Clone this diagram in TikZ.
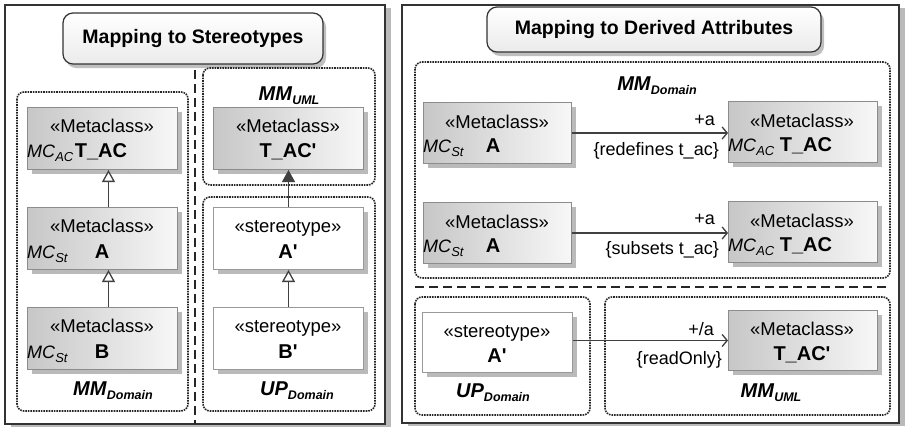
\documentclass[tikz,border=0pt]{standalone}
\usepackage{fontspec}
\setmainfont{Liberation Sans}
\usetikzlibrary{shadows,arrows.meta,calc}
\newcommand{\mygl}[2]{\textbf{\textit{#1}}{\fontsize{12.5}{12}\selectfont\raisebox{-4.5pt}{\textbf{\textit{#2}}}}}
\newcommand{\mymc}[1]{\textit{MC}{\fontsize{13}{12}\selectfont\raisebox{-4.5pt}{\textit{#1}}}}
\newcommand{\apo}{\textquotesingle}
\begin{document}
\begin{tikzpicture}[x=1pt,y=-1pt,
  panel/.style={draw=black!80, line width=1.6pt, fill=white,
    drop shadow={shadow xshift=6pt, shadow yshift=-3pt, fill=black!45, opacity=0.6}},
  grp/.style={draw=black!85, densely dotted, line width=1.6pt, rounded corners=7pt},
  sep/.style={draw=black!85, line width=1.8pt, dash pattern=on 9pt off 5pt},
  titlebox/.style={draw=black!80, line width=1.2pt, rounded corners=10pt,
    top color=white, bottom color=black!8,
    drop shadow={shadow xshift=3pt, shadow yshift=-4pt, fill=black!50, opacity=0.5},
    font=\bfseries\fontsize{19.5}{22}\selectfont},
  meta/.style={draw=black!45, line width=1pt, left color=black!22, right color=black!3,
    minimum width=150pt, minimum height=62pt, anchor=north west, inner sep=0pt,
    drop shadow={shadow xshift=4pt, shadow yshift=-4pt, fill=black!45, opacity=0.6}},
  stereo/.style={meta, left color=white, right color=white, draw=black!40},
  btxt/.style={font=\fontsize{18.5}{22}\selectfont, anchor=base, inner sep=0pt},
  bname/.style={btxt, font=\bfseries\fontsize{20}{22}\selectfont},
  mclab/.style={font=\fontsize{18}{20}\selectfont, anchor=base west, inner sep=0pt},
  glab/.style={font=\fontsize{20}{22}\selectfont, anchor=base, inner sep=0pt},
  alab/.style={font=\fontsize{18}{22}\selectfont, anchor=base east, inner sep=0pt},
  conn/.style={draw=black!75, line width=1.3pt},
  gen/.style={conn, -{Triangle[open, length=12pt, width=13pt, fill=white]}},
  ext/.style={conn, -{Triangle[length=12pt, width=13pt, fill=black!75]}},
  nav/.style={conn, -{Straight Barb[length=5pt, width=12pt, line width=1.3pt]}}
]
\useasboundingbox (0,0) rectangle (905,426);
\fill[white] (0,0) rectangle (905,426);

% panels
\path[panel] (5,5) rectangle (385,424);
\path[panel] (402,5) rectangle (899,423);

% titles
\node[titlebox, minimum width=260pt, minimum height=51pt] (t1) at (193,38.5) {Mapping to Stereotypes};
\node[titlebox, minimum width=334pt, minimum height=45pt] (t2) at (654,29.5) {Mapping to Derived Attributes};

% ===== left panel =====
\draw[sep] (195,70) -- (195,424);
\draw[grp] (17,92) rectangle (188,411);
\draw[grp] (203,68) rectangle (375,185);
\draw[grp] (203,197) rectangle (375,411);

\node[meta] (tac) at (27,107) {};
\node[btxt] (tac1) at (102,132) {«Metaclass»};
\node[bname] (tac2) at (101,157) {T\_AC};
\node[mclab] (tac3) at (27,157) {\mymc{AC}};

\node[meta] (a) at (27,207) {};
\node[btxt] (a1) at (102,232) {«Metaclass»};
\node[bname] (a2) at (102,258) {A};
\node[mclab] (a3) at (27,258) {\mymc{St}};

\node[meta] (b) at (27,307) {};
\node[btxt] (b1) at (102,332) {«Metaclass»};
\node[bname] (b2) at (102,358) {B};
\node[mclab] (b3) at (27,358) {\mymc{St}};

\node[glab] (lmmd) at (113,395) {\mygl{MM}{Domain}};

\node[glab] (lmmu) at (289,100) {\mygl{MM}{UML}};
\node[meta] (tacp) at (213,107) {};
\node[btxt] (tacp1) at (288,132) {«Metaclass»};
\node[bname] (tacp2) at (288,157) {T\_AC\apo};

\node[stereo] (ap) at (213,207) {};
\node[btxt] (ap1) at (288,232) {«stereotype»};
\node[bname] (ap2) at (288,258) {A\apo};

\node[stereo] (bp) at (213,307) {};
\node[btxt] (bp1) at (288,332) {«stereotype»};
\node[bname] (bp2) at (288,358) {B\apo};

\node[glab] (lupd) at (297,395) {\mygl{UP}{Domain}};

\draw[gen] ([xshift=6pt]a.north) -- ([xshift=6pt]tac.south);
\draw[gen] ([xshift=6pt]b.north) -- ([xshift=6pt]a.south);
\draw[ext] (ap.north) -- (tacp.south);
\draw[gen] (bp.north) -- (ap.south);

% ===== right panel =====
\draw[grp] (415,62) rectangle (890,278);
\draw[sep] (415,287) -- (890,287);
\draw[grp] (415,297) rectangle (590,415);
\draw[grp] (605,297) rectangle (890,415);

\node[glab] (rmmd) at (657,90) {\mygl{MM}{Domain}};

\node[meta, minimum width=148pt, minimum height=61pt] (ra1) at (423,102) {};
\node[btxt] (ra11) at (497,128) {«Metaclass»};
\node[bname] (ra12) at (493,152) {A};
\node[mclab] (ra13) at (423,152) {\mymc{St}};

\node[meta, minimum width=149pt, minimum height=61pt] (rt1) at (728,101) {};
\node[btxt] (rt11) at (802,127) {«Metaclass»};
\node[bname] (rt12) at (806,151) {T\_AC};
\node[mclab] (rt13) at (728,151) {\mymc{AC}};

\draw[nav] (ra1.east) -- (ra1.east -| rt1.west);
\node[alab] (l1a) at (715,125) {+a};
\node[alab] (l1b) at (719,155) {\{redefines t\_ac\}};

\node[meta, minimum width=148pt, minimum height=61pt] (ra2) at (423,202) {};
\node[btxt] (ra21) at (497,228) {«Metaclass»};
\node[bname] (ra22) at (493,252) {A};
\node[mclab] (ra23) at (423,252) {\mymc{St}};

\node[meta, minimum width=149pt, minimum height=61pt] (rt2) at (728,201) {};
\node[btxt] (rt21) at (802,227) {«Metaclass»};
\node[bname] (rt22) at (806,251) {T\_AC};
\node[mclab] (rt23) at (728,251) {\mymc{AC}};

\draw[nav] (ra2.east) -- (ra2.east -| rt2.west);
\node[alab] (l2a) at (715,224) {+a};
\node[alab] (l2b) at (719,254) {\{subsets t\_ac\}};

\node[stereo, minimum width=150pt, minimum height=60pt] (rap) at (422,312) {};
\node[btxt] (rap1) at (497,337) {«stereotype»};
\node[bname] (rap2) at (497,362) {A\apo};

\node[meta, minimum width=149pt, minimum height=60pt] (rtp) at (728,310) {};
\node[btxt] (rtp1) at (802,335) {«Metaclass»};
\node[bname] (rtp2) at (802,360) {T\_AC\apo};

\draw[nav] (rtp.west -| rap.east) -- (rtp.west);
\node[alab] (l3a) at (714,335) {+/a};
\node[alab] (l3b) at (722,364) {\{readOnly\}};

\node[glab] (rupd) at (493,397) {\mygl{UP}{Domain}};
\node[glab] (rmmu) at (771,397) {\mygl{MM}{UML}};
\end{tikzpicture}
\end{document}
